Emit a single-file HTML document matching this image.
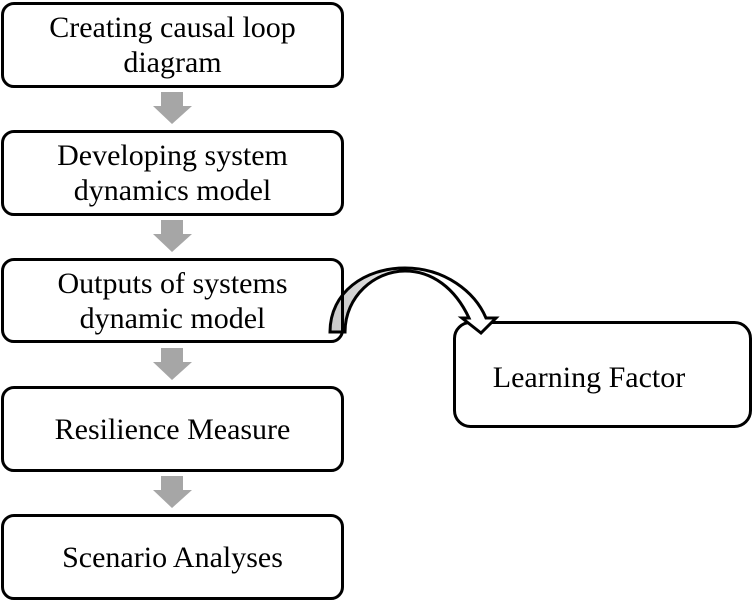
<!DOCTYPE html>
<html><head><style>
html,body{margin:0;padding:0;background:#fff;}
body{width:753px;height:602px;position:relative;overflow:hidden;font-family:"Liberation Serif",serif;}
.b{position:absolute;left:1px;width:337px;height:80px;border:3px solid #000;border-radius:13px;display:flex;align-items:center;justify-content:center;text-align:center;font-size:30px;line-height:35px;color:#000;}
</style></head><body>
<svg width="753" height="602" style="position:absolute;left:0;top:0">
<defs><linearGradient id="g" x1="330" y1="0" x2="490" y2="0" gradientUnits="userSpaceOnUse">
<stop offset="0" stop-color="#c8c8c8"/><stop offset="0.4" stop-color="#e6e6e6"/><stop offset="0.6" stop-color="#fff"/></linearGradient></defs>
<g fill="#a6a6a6">
<polygon points="161,92 183,92 183,106 192,106 172,124 153,106 161,106"/>
<polygon points="161,220 183,220 183,234 192,234 172,252 153,234 161,234"/>
<polygon points="161,348 183,348 183,362 192,362 172,380 153,362 161,362"/>
<polygon points="161,476 183,476 183,490 192,490 172,508 153,490 161,490"/>
</g>
<rect x="454.5" y="322.5" width="296" height="104" rx="16" fill="#fff" stroke="#000" stroke-width="3"/>
<path d="M330,332 C330,292 365,268 405,268 C445,268 475,292 486,318 L496,318 L481,333 L462,318 L469,318 C455,288 432,271 405,271 C375,271 345,296 345,332 Z" fill="url(#g)" stroke="#000" stroke-width="3" stroke-linejoin="miter"/>
<text x="589" y="387" font-family="Liberation Serif, serif" font-size="30" text-anchor="middle">Learning Factor</text>
</svg>
<div class="b" style="top:2px">Creating causal loop<br>diagram</div>
<div class="b" style="top:130px">Developing system<br>dynamics model</div>
<div class="b" style="top:258px;height:79px">Outputs of systems<br>dynamic model</div>
<div class="b" style="top:386px">Resilience Measure</div>
<div class="b" style="top:514px">Scenario Analyses</div>
</body></html>
